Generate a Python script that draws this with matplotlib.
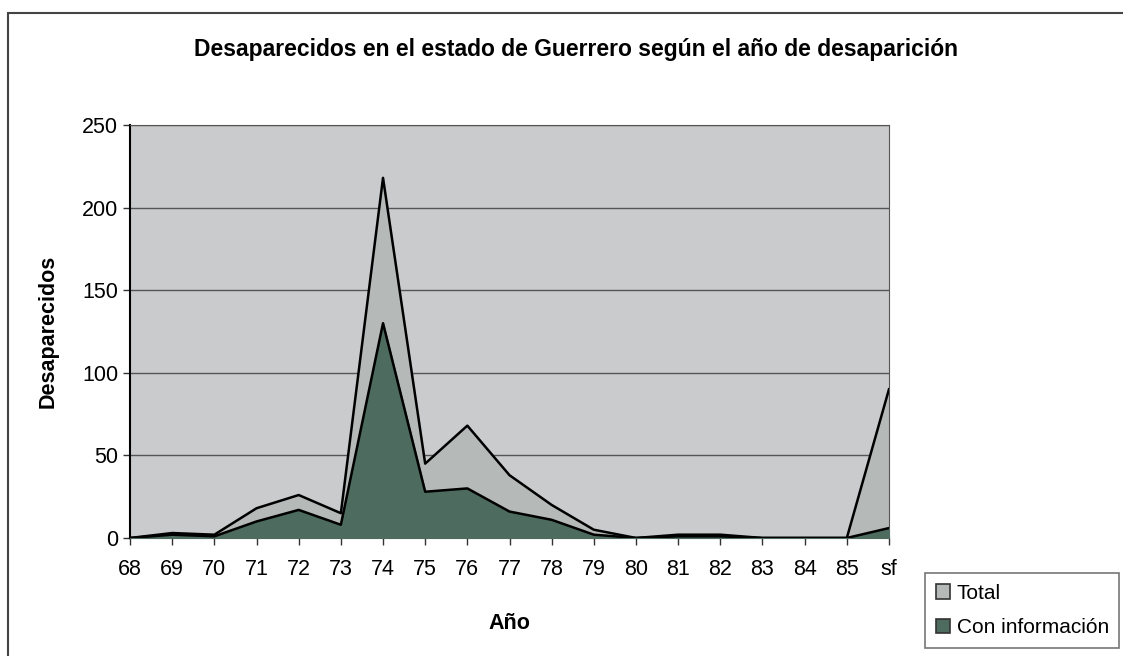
import matplotlib.pyplot as plt
from matplotlib.patches import Rectangle, Patch

plt.rcParams['font.family'] = ['Liberation Sans', 'DejaVu Sans']

# data
years = ["68", "69", "70", "71", "72", "73", "74", "75", "76", "77",
         "78", "79", "80", "81", "82", "83", "84", "85", "sf"]
total = [0, 3, 2, 18, 26, 15, 218, 45, 68, 38, 20, 5, 0, 2, 2, 0, 0, 0, 90]
con_info = [0, 2, 1, 10, 17, 8, 130, 28, 30, 16, 11, 2, 0, 1, 1, 0, 0, 0, 6]

bg_color = "#c9cbcd"
total_color = "#b5b9b8"
info_color = "#4d6b5e"

fig = plt.figure(figsize=(11.23, 6.56), dpi=100)
ax = fig.add_axes([0.1158, 0.1799, 0.6758, 0.6296])
ax.set_facecolor(bg_color)

x = list(range(len(years)))
ax.fill_between(x, 0, total, color=total_color, zorder=2)
ax.plot(x, total, color="black", lw=1.8, zorder=3)
ax.fill_between(x, 0, con_info, color=info_color, zorder=4)
ax.plot(x, con_info, color="black", lw=1.8, zorder=5)

ax.set_xlim(0, len(years) - 1)
ax.set_ylim(0, 250)
ax.set_xticks(x)
ax.set_xticklabels(years)
ax.set_yticks(range(0, 251, 50))
ax.tick_params(axis="both", labelsize=15.5, length=5, width=1, color="#333333")
ax.tick_params(axis="x", pad=10)
ax.grid(axis="y", color="#555555", lw=1, zorder=1)

for side in ["top", "right"]:
    ax.spines[side].set_color("#555555")
for side in ["left", "bottom"]:
    ax.spines[side].set_color("black")
    ax.spines[side].set_linewidth(1.5)

ax.set_xlabel("Año", fontsize=15.5, fontweight="bold", labelpad=24)
ax.set_ylabel("Desaparecidos", fontsize=15.5, fontweight="bold", labelpad=17)

fig.text(0.513, 0.925, "Desaparecidos en el estado de Guerrero según el año de desaparición",
         ha="center", va="center", fontsize=16.5, fontweight="bold")

handles = [Patch(facecolor=total_color, edgecolor="#333333", lw=1.2, label="Total"),
           Patch(facecolor=info_color, edgecolor="#333333", lw=1.2, label="Con información")]
leg = fig.legend(handles=handles, loc="lower right", bbox_to_anchor=(1.006, -0.003),
                 fontsize=15, frameon=True, fancybox=False, handlelength=0.7,
                 handleheight=0.7, handletextpad=0.3, labelspacing=0.75,
                 borderpad=0.5, edgecolor="#555555")
leg.get_frame().set_linewidth(1.2)

# outer chart frame
fig.patches.append(Rectangle((0.007, -0.05), 1.05, 1.03, transform=fig.transFigure,
                             fill=False, edgecolor="#444444", lw=1.5))

fig.savefig("out.png", dpi=100)
